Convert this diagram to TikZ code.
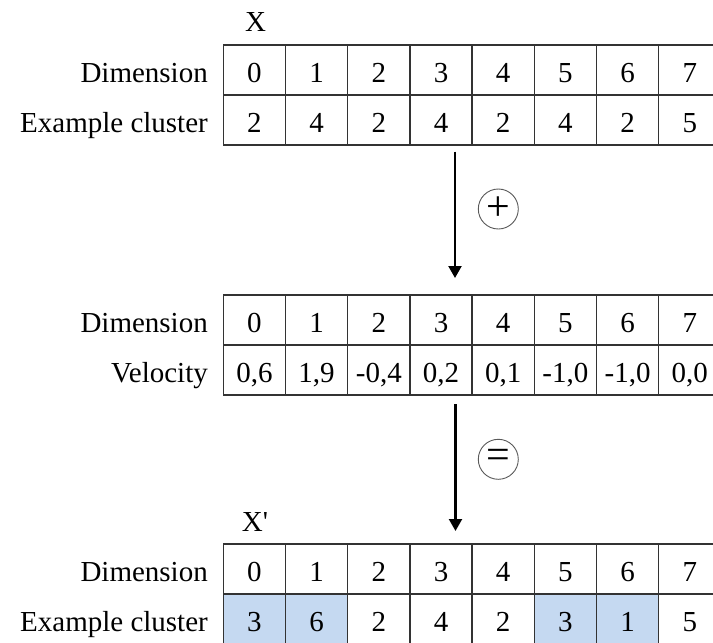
\documentclass[tikz,border=0pt]{standalone}
\usepackage{fontspec}
\setmainfont{Liberation Serif}
\newfontfamily\plainserif{Liberation Serif}
\usetikzlibrary{arrows.meta}
\definecolor{cellblue}{HTML}{C5D9F1}
\definecolor{gridline}{HTML}{333333}
\begin{document}
\begin{tikzpicture}[x=1pt,y=-1pt,
  font=\fontsize{29}{34}\selectfont,
  cell/.style={draw=gridline,line width=1.3pt,minimum width=62.2pt,minimum height=50pt,inner sep=0pt,text height=24pt,text depth=0pt,anchor=center},
  hl/.style={cell,fill=cellblue},
  rowlabel/.style={anchor=base east,inner sep=0pt},
  title/.style={inner sep=0pt,anchor=base},
  flow/.style={line width=2.2pt,-{Triangle[width=13pt,length=12pt]}},
  opcircle/.style={circle,draw=black!65,line width=0.9pt,minimum size=40pt,inner sep=0pt,font=\fontsize{42}{42}\selectfont}]
\useasboundingbox (0,0) rectangle (713,643);
\clip (0,0) rectangle (713,643);
% ---- table 1
\node[title] (X) at (255.7,31.7) {X};
\node[rowlabel] (l1a) at (208,82) {Dimension};
\node[rowlabel] (l1b) at (208,132) {Example cluster};
\foreach \v [count=\i from 0] in {0,1,2,3,4,5,6,7}
  \node[cell] (ta\i) at (223.3+31.1+62.2*\i,70) {\v};
\foreach \v [count=\i from 0] in {2,4,2,4,2,4,2,5}
  \node[cell] (tb\i) at (223.3+31.1+62.2*\i,120) {\v};
% ---- table 2
\node[rowlabel] (l2a) at (208,332) {Dimension};
\node[rowlabel] (l2b) at (208,382) {Velocity};
\foreach \v [count=\i from 0] in {0,1,2,3,4,5,6,7}
  \node[cell] (tc\i) at (223.3+31.1+62.2*\i,320) {\v};
\foreach \v [count=\i from 0] in {{0,6},{1,9},{-0,4},{0,2},{0,1},{-1,0},{-1,0},{0,0}}
  \node[cell] (td\i) at (223.3+31.1+62.2*\i,370) {\v};
% ---- table 3
\node[title] (Xp) at (255,531.5) {\plainserif X'};
\node[rowlabel] (l3a) at (208,581) {Dimension};
\node[rowlabel] (l3b) at (208,631) {Example cluster};
\foreach \v [count=\i from 0] in {0,1,2,3,4,5,6,7}
  \node[cell] (te\i) at (223.3+31.1+62.2*\i,569) {\v};
\node[hl] (tf0) at (223.3+31.1+62.2*0,619) {3};
\node[hl] (tf1) at (223.3+31.1+62.2*1,619) {6};
\node[cell] (tf2) at (223.3+31.1+62.2*2,619) {2};
\node[cell] (tf3) at (223.3+31.1+62.2*3,619) {4};
\node[cell] (tf4) at (223.3+31.1+62.2*4,619) {2};
\node[hl] (tf5) at (223.3+31.1+62.2*5,619) {3};
\node[hl] (tf6) at (223.3+31.1+62.2*6,619) {1};
\node[cell] (tf7) at (223.3+31.1+62.2*7,619) {5};
% ---- arrows and operators
\coordinate (a1s) at (455,151.5);
\coordinate (a1e) at (455,278);
\coordinate (a2s) at (455.5,404);
\coordinate (a2e) at (455.5,531);
\draw[flow] (a1s) -- (a1e);
\draw[flow] (a2s) -- (a2e);
\node[opcircle] (plus) at (498.3,209) {+};
\node[opcircle] (eq) at (498.3,459.3) {=};
\end{tikzpicture}
\end{document}
